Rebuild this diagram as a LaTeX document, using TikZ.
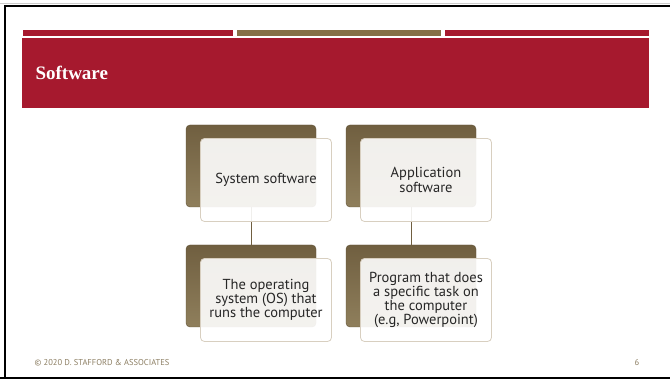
\documentclass[tikz,border=0pt]{standalone}
\usepackage{fontspec}
\usepackage{tikz}
\usetikzlibrary{positioning}
\usepackage{xcolor}
\newfontfamily\boxfont{PT Sans}
\newfontfamily\titlefont{Liberation Serif}
\definecolor{slidered}{HTML}{A6192E}
\definecolor{slidegold}{HTML}{857047}
\definecolor{boxbrown}{HTML}{705F40}
\definecolor{boxbrownlight}{HTML}{8F7F5C}
\definecolor{boxedge}{HTML}{D8CFC0}
\definecolor{footgray}{HTML}{8C7E62}

\begin{document}
\begin{tikzpicture}[x=1pt,y=-1pt,
    backbox/.style={rounded corners=4pt,minimum width=130pt,minimum height=82pt,inner sep=0pt,
        top color=boxbrown,bottom color=boxbrownlight,draw=boxbrown!85!black,line width=0.4pt},
    frontbox/.style={rounded corners=4pt,minimum width=131pt,minimum height=83pt,inner sep=0pt,
        draw=boxedge,line width=0.8pt,fill=white,fill opacity=0.9,text opacity=1,align=center,
        font=\boxfont\fontsize{14.5}{14.2}\selectfont,text=black!85},
    link/.style={draw=boxbrown,line width=0.6pt}]
    \useasboundingbox (0,0) rectangle (670,379);
    \fill[white] (0,0) rectangle (670,379);

    % slide frame
    \draw[gray!40,line width=1pt] (0,3.5) -- (670,3.5);
    \draw[black,line width=2pt] (5,379) -- (5,6) -- (680,6);
    \draw[black,line width=2pt] (0,378) -- (680,378);

    % header
    \fill[slidered] (23,30) rectangle (233,36);
    \fill[slidegold] (237,30) rectangle (441,36);
    \fill[slidered] (445,30) rectangle (649,36);
    \fill[slidered] (22,38) rectangle (649,108);
    \node[anchor=base west,text=white,font=\titlefont\bfseries\fontsize{19}{22}\selectfont]
        (title) at (32,80) {Software};

    % back boxes
    \node[backbox] (sysB) at (251,166) {};
    \node[backbox] (appB) at (411,166) {};
    \node[backbox] (osB) at (251,286) {};
    \node[backbox] (progB) at (411,286) {};
    \draw[link] (sysB.south) -- (osB.north);
    \draw[link] (appB.south) -- (progB.north);

    % front boxes
    \node[frontbox] (sys) at (266,180) {System software};
    \node[frontbox] (app) at (426,180) {Application\\software};
    \node[frontbox] (os) at (266,300) {The operating\\system (OS) that\\runs the computer};
    \node[frontbox] (prog) at (426,300) {Program that does\\a specific task on\\the computer\\(e.g, Powerpoint)};

    % footer
    \node[anchor=west,text=footgray,font=\boxfont\fontsize{8.5}{10}\selectfont] (foot) at (31,363)
        {\textcopyright{} 2020 D. STAFFORD \& ASSOCIATES};
    \node[text=footgray,font=\boxfont\fontsize{8.5}{10}\selectfont] (page) at (637,363) {6};
\end{tikzpicture}
\end{document}
